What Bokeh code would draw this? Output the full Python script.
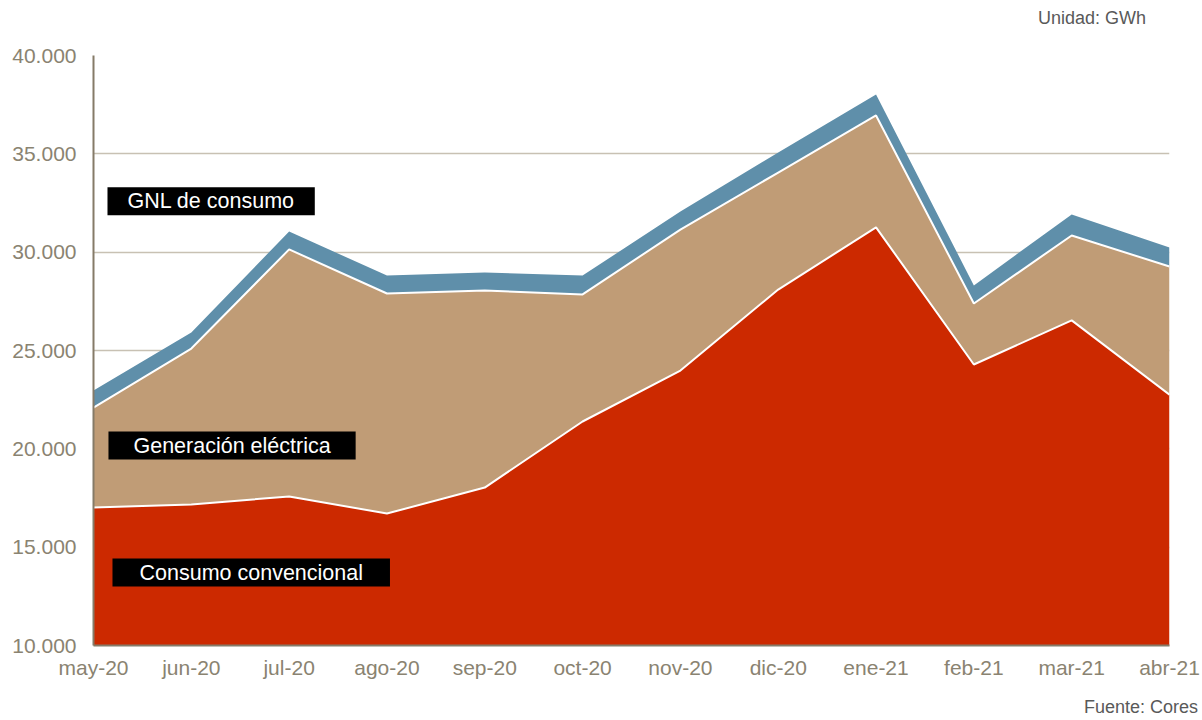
from bokeh.plotting import figure
from bokeh.models import (ColumnDataSource, FixedTicker, Range1d, Label, LinearAxis)
from bokeh.transform import stack
from bokeh.embed import file_html
from bokeh.resources import INLINE

months = ["may-20", "jun-20", "jul-20", "ago-20", "sep-20", "oct-20",
          "nov-20", "dic-20", "ene-21", "feb-21", "mar-21", "abr-21"]
consumo_convencional = [17020, 17170, 17580, 16710, 18030, 21390,
                        23980, 28100, 31260, 24290, 26530, 22750]
generacion_electrica = [5080, 7930, 12560, 11190, 10020, 6460,
                        7170, 5950, 5690, 3100, 4320, 6520]
gnl_consumo = [870, 820, 910, 910, 920, 960,
               920, 1020, 1070, 920, 1070, 970]
y_ticks = [10000, 15000, 20000, 25000, 30000, 35000, 40000]

FONT = "Liberation Sans"
AXIS_COL = "#8A8371"
NOTE_COL = "#595959"

src = ColumnDataSource(dict(
    x=list(range(len(months))),
    conv=consumo_convencional,
    gen=generacion_electrica,
    gnl=gnl_consumo,
))

p = figure(width=1202, height=720, output_backend="svg", toolbar_location=None,
           x_range=Range1d(0, len(months) - 1), y_range=Range1d(10000, 40000),
           min_border_left=93, min_border_right=33, min_border_top=55,
           min_border_bottom=75)
p.outline_line_color = None
p.background_fill_color = "white"
p.border_fill_color = "white"

p.varea_stack(["conv", "gen", "gnl"], x="x", source=src,
              color=["#CC2900", "#C09C76", "#5F8FAA"])
p.line(x="x", y=stack("conv"), source=src, line_color="white", line_width=2)
p.line(x="x", y=stack("conv", "gen"), source=src, line_color="white", line_width=2)

# axes
p.xaxis.ticker = FixedTicker(ticks=list(range(len(months))))
p.xaxis.major_label_overrides = {i: m for i, m in enumerate(months)}
p.yaxis.ticker = FixedTicker(ticks=y_ticks)
p.yaxis.major_label_overrides = {t: f"{t:,}".replace(",", ".") for t in y_ticks}
for ax in (p.xaxis, p.yaxis):
    ax.axis_line_color = "#857B68"
    ax.axis_line_width = 2
    ax.major_tick_line_color = None
    ax.minor_tick_line_color = None
    ax.major_label_text_color = AXIS_COL
    ax.major_label_text_font = FONT
    ax.major_label_text_font_size = "21px"
p.yaxis.major_label_standoff = 11
p.xaxis.major_tick_out = 0
p.xaxis.minor_tick_out = 0
p.xaxis.major_label_standoff = 10

p.xgrid.grid_line_color = None
p.ygrid.grid_line_color = "#C8C1B3"
p.ygrid.grid_line_width = 1.5

# series labels
def box_label(x, y, text, pad):
    return Label(x=x, y=y, text=text, anchor="top_left",
                 text_color="white", text_font=FONT, text_font_size="21.5px",
                 background_fill_color="black",
                 padding=(pad, 2))

p.add_layout(box_label(0.143, 33300, "GNL de consumo", 20))
p.add_layout(box_label(0.153, 20880, "Generación eléctrica", 25))
p.add_layout(box_label(0.194, 14420, "Consumo convencional", 27))

# unit and source notes, placed as single-label axes outside the frame
def note_axis(xpos, text, standoff):
    ax = LinearAxis(ticker=FixedTicker(ticks=[xpos]),
                    major_label_overrides={xpos: text})
    ax.axis_line_color = None
    ax.major_tick_line_color = None
    ax.minor_tick_line_color = None
    ax.major_tick_out = 0
    ax.major_tick_in = 0
    ax.minor_tick_out = 0
    ax.minor_tick_in = 0
    ax.major_label_standoff = standoff
    ax.major_label_text_font = FONT
    ax.major_label_text_font_size = "18px"
    ax.major_label_text_color = NOTE_COL
    return ax

p.add_layout(note_axis(10.207, "Unidad: GWh", 28), "above")
p.add_layout(note_axis(10.708, "Fuente: Cores", 15), "below")

open("out.html", "w").write(file_html(p, INLINE))
